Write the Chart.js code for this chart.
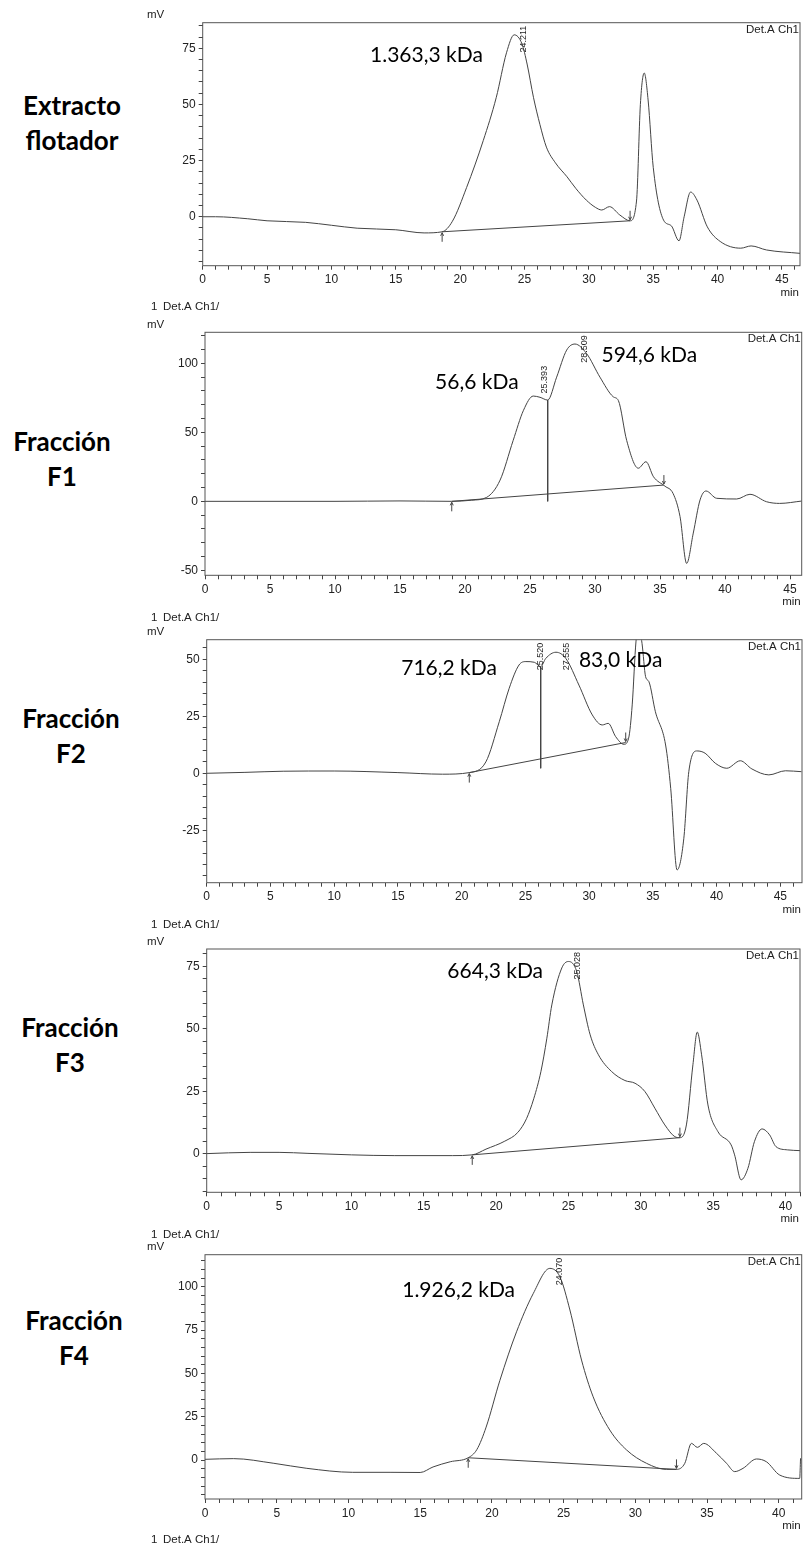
<!DOCTYPE html>
<html>
<head>
<meta charset="utf-8">
<title>Cromatogramas</title>
<script src="https://cdn.jsdelivr.net/npm/chart.js@4.4.1/dist/chart.umd.min.js"></script>
<style>
  html, body { margin: 0; padding: 0; background: #fff; }
  body { width: 803px; height: 1548px; position: relative; overflow: hidden; }
  canvas { position: absolute; left: 140px; }
  .name {
    position: absolute; width: 140px; text-align: center;
    font-family: Lato, "Open Sans", sans-serif; font-weight: 700;
    font-size: 26px; line-height: 35px; color: #000;
  }
</style>
</head>
<body>
<div class="name" style="left:2px;top:88px">Extracto<br>flotador</div>
<div class="name" style="left:-8px;top:424px">Fracción<br>F1</div>
<div class="name" style="left:1px;top:701px">Fracción<br>F2</div>
<div class="name" style="left:0px;top:1010px">Fracción<br>F3</div>
<div class="name" style="left:4px;top:1303px">Fracción<br>F4</div>

<canvas id="c1"></canvas>
<canvas id="c2"></canvas>
<canvas id="c3"></canvas>
<canvas id="c4"></canvas>
<canvas id="c5"></canvas>

<script>
// ---- data (time in min, signal in mV) ----
const extractoMin = [0, 1, 3.5, 5, 8, 10, 12, 15, 17.2, 18.6, 19.4, 20.5, 21.8, 22.8, 23.6, 24.2, 24.8, 25.2, 25.7, 26.2, 26.7, 27.4, 28.3, 29.0, 29.8, 30.5, 31.0, 31.6, 32.4, 33.2, 33.7, 34.0, 34.3, 34.6, 35.0, 35.8, 36.4, 37.0, 37.4, 37.9, 38.4, 39.2, 40.2, 41.8, 42.6, 43.8, 46.4];
const extractoMV  = [0, 0, -0.9, -1.8, -2.5, -3.8, -5.1, -5.8, -7.2, -6.7, -2, 13, 34, 53, 73, 81, 77, 68, 53, 41, 31, 24, 17.8, 12.5, 7.4, 4.2, 3.0, 4.5, 0.8, -1.8, 7, 50, 64, 52, 22, -1.5, -4, -10.7, 0, 11, 7.4, -4.5, -11, -14, -13, -14.8, -16.3];
const extractoBaseMin = [18.6, 33.2];
const extractoBaseMV  = [-6.7, -1.8];
const extractoPeaks = [24.211];

const f1Min = [0, 5, 10, 15, 18.98, 20.5, 21.67, 22.7, 23.7, 24.5, 25.25, 25.77, 26.36, 27.05, 27.82, 28.46, 29.36, 30.38, 31.4, 31.8, 32.44, 33.33, 33.92, 34.5, 35.38, 36.0, 36.54, 37.05, 37.56, 38.08, 38.54, 39.36, 40.9, 41.92, 43.2, 44.2, 45.9];
const f1MV  = [0, 0, 0, 0.3, 0, 0.8, 2.9, 15.4, 44, 66, 76.3, 75.4, 73.4, 90, 109.6, 114, 107, 90, 75.8, 73, 44, 24, 28.7, 17.8, 11, 5.8, -11, -45, -23, 1, 7.5, 2.2, 1.7, 5.1, -0.3, -1.5, 0.2];
const f1BaseMin = [18.98, 35.3];
const f1BaseMV  = [0, 11.8];
const f1DropMin = [26.36];
const f1DropMV  = [0];
const f1Peaks = [25.393, 28.509];

const f2Min = [0, 3, 6, 10, 15, 18.5, 20.6, 21.9, 22.95, 23.73, 24.5, 25.04, 25.7, 26.2, 26.6, 27.4, 28.17, 29.2, 30.25, 31.03, 31.5, 32.08, 32.73, 33.1, 33.38, 33.68, 33.9, 34.15, 34.43, 34.69, 35.2, 36.0, 36.4, 36.9, 37.43, 37.82, 38.47, 39.1, 39.9, 40.8, 41.86, 42.77, 44.1, 45.4, 46.66];
const f2MV  = [0, 0.4, 0.9, 1.0, 0.3, -0.4, 0.3, 5, 22.6, 37.3, 47.5, 49, 48.7, 46.8, 50.4, 53.1, 50.4, 38.7, 25.6, 21.2, 21.9, 16.1, 12.7, 15.4, 30, 58, 64, 57, 42.4, 40.2, 27, 12.4, -6.6, -42.4, -28.5, 0.7, 9.8, 8.8, 4.4, 2.2, 5.5, 1.9, -0.7, 1.1, 0.7];
const f2BaseMin = [20.6, 32.87];
const f2BaseMV  = [0.3, 13.5];
const f2DropMin = [26.2];
const f2DropMV  = [2.2];
const f2Peaks = [25.520, 27.555];

const f3Min = [0, 3, 5, 7, 10, 13, 17, 18.35, 19.3, 20.6, 21.5, 22.1, 22.6, 23.1, 23.5, 23.85, 24.54, 25.0, 25.57, 26.03, 26.5, 27.07, 27.98, 28.9, 29.6, 30.28, 30.97, 31.66, 32.35, 32.7, 33.15, 33.6, 33.9, 34.2, 34.64, 35.33, 36.24, 36.48, 36.93, 37.4, 37.85, 38.38, 38.9, 39.34, 40.14, 41.0];
const f3MV  = [0, 0.5, 0.5, 0.1, -0.5, -0.8, -0.8, -0.5, 1.8, 5, 8.5, 14, 22, 33, 46, 59.6, 74.4, 77, 73, 59.6, 47.6, 39.6, 32.9, 29.3, 28.2, 24.9, 18.2, 11.5, 6.8, 6.4, 11.5, 35.6, 48.7, 39.6, 19.5, 8.8, 3.5, -0.5, -10.5, -5.9, 4.8, 9.9, 7.5, 2.8, 1.5, 1.2];
const f3BaseMin = [18.35, 32.7];
const f3BaseMV  = [-0.5, 6.4];
const f3Peaks = [25.028];

const f4Min = [0, 2, 4.8, 7.1, 10.3, 12.9, 15.0, 15.9, 17.1, 18.35, 18.95, 19.6, 20.56, 21.72, 22.88, 24.04, 24.74, 25.44, 26.25, 27.06, 28.22, 29.39, 30.78, 32.17, 32.87, 33.45, 33.91, 34.33, 34.77, 35.66, 36.36, 36.93, 37.51, 38.45, 39.14, 40.07, 41.46, 41.52];
const f4MV  = [0.4, 0.8, -1.9, -4.8, -7.1, -7.1, -7.2, -4, -1, 1.3, 6, 19, 46, 74, 96, 110.6, 105.8, 86.6, 57.7, 36.5, 17.3, 5.8, -1.9, -5.4, -5.4, -1.9, 9.6, 7.3, 9.6, 3.9, -1.9, -6.7, -4.8, 0.6, -1, -8.7, -10.6, 1];
const f4BaseMin = [18.35, 32.87];
const f4BaseMV  = [1.3, -5.4];
const f4Peaks = [24.070];

const extractoNotes = ['1.363,3 kDa'];
const f1Notes = ['56,6 kDa', '594,6 kDa'];
const f2Notes = ['716,2 kDa', '83,0 kDa'];
const f3Notes = ['664,3 kDa'];
const f4Notes = ['1.926,2 kDa'];

// ---- layout of each panel (pixel boxes of the plot frames, note anchors in data units) ----
const panels = [
  { id: 'c1', t: extractoMin, v: extractoMV, baseT: extractoBaseMin, baseV: extractoBaseMV, dropT: [], dropV: [], peaks: extractoPeaks,
    box: { l: 202.7, t: 22.7, r: 800, b: 265.7 }, xMax: 46.4, yMin: -21.8, yMax: 86.4, yStep: 5, yLabel: 25,
    header: null, notes: extractoNotes, noteAt: [[13.0, 72]] },
  { id: 'c2', t: f1Min, v: f1MV, baseT: f1BaseMin, baseV: f1BaseMV, dropT: f1DropMin, dropV: f1DropMV, peaks: f1Peaks,
    box: { l: 205, t: 332.3, r: 801.7, b: 575.3 }, xMax: 45.9, yMin: -53.6, yMax: 122.5, yStep: 10, yLabel: 50,
    header: -25, notes: f1Notes, noteAt: [[17.7, 86], [30.5, 106]] },
  { id: 'c3', t: f2Min, v: f2MV, baseT: f2BaseMin, baseV: f2BaseMV, dropT: f2DropMin, dropV: f2DropMV, peaks: f2Peaks,
    box: { l: 206.7, t: 639.7, r: 802, b: 882.7 }, xMax: 46.7, yMin: -48, yMax: 58.6, yStep: 5, yLabel: 25,
    header: -21.5, notes: f2Notes, noteAt: [[15.26, 46], [29.2, 49.7]] },
  { id: 'c4', t: f3Min, v: f3MV, baseT: f3BaseMin, baseV: f3BaseMV, dropT: [], dropV: [], peaks: f3Peaks,
    box: { l: 206.7, t: 949, r: 802, b: 1192.3 }, xMax: 41.0, yMin: -15.5, yMax: 82, yStep: 5, yLabel: 25,
    header: -24, notes: f3Notes, noteAt: [[16.63, 73]] },
  { id: 'c5', t: f4Min, v: f4MV, baseT: f4BaseMin, baseV: f4BaseMV, dropT: [], dropV: [], peaks: f4Peaks,
    box: { l: 205, t: 1254.7, r: 801.7, b: 1499 }, xMax: 41.6, yMin: -22.5, yMax: 118.5, yStep: 5, yLabel: 25,
    header: -20, notes: f4Notes, noteAt: [[13.75, 98]], footer: 40.7 }
];

const INK = '#444';
const SMALL = '11.5px "Liberation Sans", Arial, sans-serif';
Chart.defaults.font.family = '"Liberation Sans", Arial, sans-serif';
Chart.defaults.font.size = 12;
Chart.defaults.color = '#222';

function valueAt(ts, vs, t) {
  for (let i = 1; i < ts.length; i++) {
    if (t <= ts[i]) {
      const f = (t - ts[i - 1]) / (ts[i] - ts[i - 1]);
      return vs[i - 1] + f * (vs[i] - vs[i - 1]);
    }
  }
  return vs[vs.length - 1];
}

function arrow(ctx, x, y, up) {
  // small integration marker: up-arrow below start, down-arrow above end
  ctx.beginPath();
  if (up) {
    ctx.moveTo(x, y + 10); ctx.lineTo(x, y + 1);
    ctx.moveTo(x - 1.5, y + 4); ctx.lineTo(x, y + 1); ctx.lineTo(x + 1.5, y + 4);
  } else {
    ctx.moveTo(x, y - 10); ctx.lineTo(x, y - 1);
    ctx.moveTo(x - 1.5, y - 4); ctx.lineTo(x, y - 1); ctx.lineTo(x + 1.5, y - 4);
  }
  ctx.stroke();
}

function makePanel(p) {
  const canvas = document.getElementById(p.id);
  const top = Math.floor(p.box.t) - 34;
  const height = Math.ceil(p.box.b - top) + 56;
  canvas.width = 663;
  canvas.height = height;
  canvas.style.top = top + 'px';

  const datasets = [{
    data: p.t.map((t, i) => ({ x: t, y: p.v[i] })),
    borderColor: INK, borderWidth: 1, pointRadius: 0,
    cubicInterpolationMode: 'monotone'
  }, {
    data: p.baseT.map((t, i) => ({ x: t, y: p.baseV[i] })),
    borderColor: INK, borderWidth: 1, pointRadius: 0, tension: 0
  }];
  p.dropT.forEach((t, i) => {
    datasets.push({
      data: [{ x: t, y: valueAt(p.t, p.v, t) }, { x: t, y: p.dropV[i] }],
      borderColor: INK, borderWidth: 1, pointRadius: 0, tension: 0
    });
  });

  const decor = {
    id: 'decor',
    afterDraw(chart) {
      const ctx = chart.ctx;
      const a = chart.chartArea;
      const xs = chart.scales.x, ys = chart.scales.y;
      ctx.save();
      // frame
      ctx.strokeStyle = '#555';
      ctx.lineWidth = 1;
      ctx.strokeRect(a.left, a.top, a.right - a.left, a.bottom - a.top);

      // integration markers
      ctx.strokeStyle = INK;
      arrow(ctx, xs.getPixelForValue(p.baseT[0]), ys.getPixelForValue(p.baseV[0]), true);
      arrow(ctx, xs.getPixelForValue(p.baseT[1]), ys.getPixelForValue(p.baseV[1]), false);

      // small texts
      ctx.fillStyle = '#222';
      ctx.font = SMALL;
      ctx.textBaseline = 'middle';
      ctx.textAlign = 'left';
      const axisX = 7;
      ctx.fillText('mV', axisX, a.top - 7.5);
      if (p.header !== null) {
        ctx.fillText('1', axisX + 4, a.top + p.header);
        ctx.fillText('Det.A Ch1/', axisX + 16, a.top + p.header);
      }
      if (p.footer) {
        ctx.fillText('1', axisX + 4, a.bottom + p.footer);
        ctx.fillText('Det.A Ch1/', axisX + 16, a.bottom + p.footer);
      }
      ctx.textAlign = 'right';
      ctx.fillText('Det.A Ch1', a.right - 1, a.top + 7);
      ctx.fillText('min', a.right - 1, a.bottom + 27);

      // retention time labels (rotated)
      ctx.font = '9px "Liberation Sans", Arial, sans-serif';
      p.peaks.forEach(rt => {
        const txt = rt.toFixed(3);
        const w = ctx.measureText(txt).width;
        const px = xs.getPixelForValue(rt) + 9;
        let bottom = ys.getPixelForValue(valueAt(p.t, p.v, rt)) - 3;
        if (bottom - w < a.top + 3) bottom = a.top + 3 + w;
        ctx.save();
        ctx.translate(px, bottom);
        ctx.rotate(-Math.PI / 2);
        ctx.textAlign = 'left';
        ctx.textBaseline = 'middle';
        ctx.fillText(txt, 0, 0);
        ctx.restore();
      });

      // molecular weight notes
      ctx.fillStyle = '#000';
      ctx.font = '21px Lato, "Open Sans", sans-serif';
      ctx.textAlign = 'left';
      ctx.textBaseline = 'middle';
      p.notes.forEach((txt, i) => {
        ctx.fillText(txt, xs.getPixelForValue(p.noteAt[i][0]), ys.getPixelForValue(p.noteAt[i][1]));
      });
      ctx.restore();
    }
  };

  new Chart(canvas.getContext('2d'), {
    type: 'line',
    data: { datasets },
    options: {
      responsive: false,
      animation: false,
      devicePixelRatio: 1,
      layout: {
        padding: {
          top: p.box.t - top,
          right: 803 - p.box.r,
          left: 0,
          bottom: height - (p.box.b - top) - 30
        }
      },
      plugins: { legend: { display: false }, tooltip: { enabled: false } },
      scales: {
        x: {
          type: 'linear', min: 0, max: p.xMax,
          afterFit: s => { s.height = 30; },
          border: { display: false },
          grid: { drawOnChartArea: false, drawTicks: true, tickLength: 4, color: INK },
          ticks: {
            stepSize: 1, autoSkip: false, includeBounds: false, maxRotation: 0, padding: 3,
            callback: v => (v % 5 === 0 ? String(v) : '')
          }
        },
        y: {
          type: 'linear', min: p.yMin, max: p.yMax,
          afterFit: s => { s.width = p.box.l - 140; },
          border: { display: false },
          grid: { drawOnChartArea: false, drawTicks: true, tickLength: 4, color: INK },
          ticks: {
            stepSize: p.yStep, autoSkip: false, includeBounds: false, padding: 3,
            callback: v => (v % p.yLabel === 0 ? String(v) : '')
          }
        }
      }
    },
    plugins: [decor]
  });
}

panels.forEach(makePanel);
</script>
</body>
</html>
